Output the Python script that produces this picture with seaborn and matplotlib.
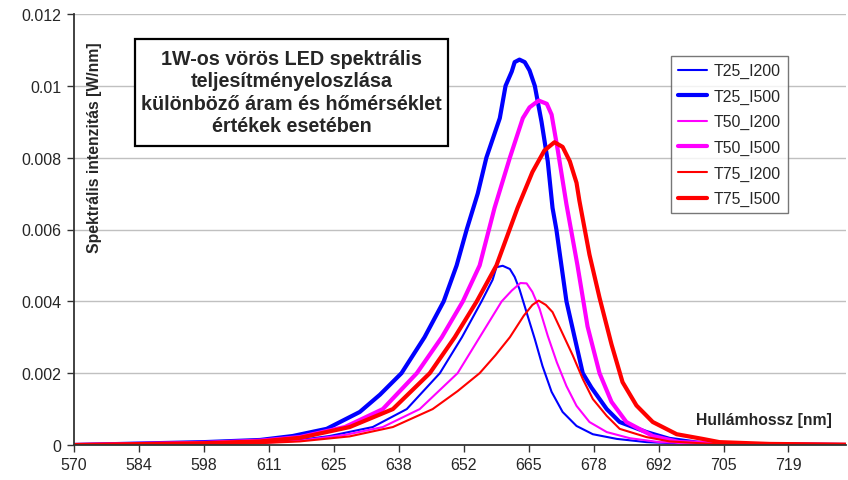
import numpy as np
import pandas as pd
import matplotlib
matplotlib.use("Agg")
import matplotlib.pyplot as plt
from matplotlib.patches import Rectangle
import seaborn as sns

# ---- data ----
wl_T25_I500 = [570, 597.1, 608.8, 615.6, 622.7, 629.6, 633.8, 638.3, 643.1, 647.1, 649.8, 651.9, 654.2, 656.0, 658.8, 660.0, 661.3, 661.9, 662.9, 664.0, 665.0, 666.1, 667.5, 668.8, 669.8, 670.6, 672.7, 674.4, 676.1, 677.9, 681.1, 683.8, 689.4, 694.2, 700.4, 710.9, 730.9]
val_T25_I500 = [0, 0.00008, 0.00014, 0.00025, 0.00045, 0.00092, 0.0014, 0.0020, 0.0030, 0.0040, 0.0050, 0.0060, 0.0070, 0.0080, 0.0091, 0.0100, 0.0104, 0.01066, 0.01073, 0.01066, 0.01043, 0.0100, 0.0090, 0.0079, 0.0066, 0.0060, 0.0040, 0.0030, 0.0020, 0.0016, 0.0010, 0.00064, 0.00036, 0.00017, 0.00006, 0.00002, 0]

wl_T50_I500 = [570, 597.1, 608.8, 617.1, 626.5, 634.4, 641.5, 646.7, 651.1, 654.6, 657.7, 660.9, 663.6, 665.0, 666.9, 668.6, 669.6, 670.9, 672.7, 675.0, 677.1, 679.6, 682.1, 685.2, 690.7, 696.3, 710.9, 730.9]
val_T50_I500 = [0, 0.00006, 0.00012, 0.00022, 0.0005, 0.0010, 0.0020, 0.0030, 0.0040, 0.0050, 0.0066, 0.0080, 0.0091, 0.0094, 0.00959, 0.0095, 0.0092, 0.0082, 0.0067, 0.0050, 0.0033, 0.0020, 0.0012, 0.00064, 0.00025, 0.00008, 0.00002, 0]

wl_T75_I500 = [570, 597.1, 608.8, 617.1, 627.5, 636.5, 644.2, 649.4, 654.0, 658.1, 662.5, 665.6, 668.1, 670.2, 671.9, 673.4, 674.8, 675.4, 677.5, 679.6, 682.1, 684.4, 687.3, 690.7, 695.7, 701.1, 704.6, 715.0, 730.9]
val_T75_I500 = [0, 0.00005, 0.0001, 0.0002, 0.0005, 0.0010, 0.0020, 0.0030, 0.0040, 0.0050, 0.0066, 0.0076, 0.0082, 0.00843, 0.0083, 0.0079, 0.0073, 0.0068, 0.0053, 0.0041, 0.0028, 0.00175, 0.0011, 0.00064, 0.0003, 0.00017, 0.00008, 0.00003, 0.00001]

wl_T25_I200 = [570, 597.1, 608.8, 617.1, 623.3, 632.3, 639.4, 646.3, 650.9, 655.0, 657.3, 658.1, 659.4, 660.9, 661.9, 662.9, 664.6, 666.1, 667.7, 669.6, 671.9, 674.8, 678.2, 683.2, 689.4, 700.4, 730.9]
val_T25_I200 = [0, 0.00003, 0.00007, 0.00014, 0.00025, 0.0005, 0.0010, 0.0020, 0.0030, 0.0040, 0.0046, 0.00495, 0.00499, 0.0049, 0.00468, 0.00434, 0.0036, 0.00295, 0.0022, 0.00148, 0.00092, 0.00053, 0.0003, 0.00017, 0.00008, 0.00002, 0]

wl_T50_I200 = [570, 597.1, 608.8, 617.1, 626.5, 634.4, 642.1, 650.0, 654.6, 659.2, 661.3, 663.1, 664.4, 665.6, 667.1, 668.8, 670.7, 672.7, 674.8, 677.5, 681.1, 685.9, 692.1, 710.9, 730.9]
val_T50_I200 = [0, 0.00002, 0.00006, 0.00012, 0.00028, 0.0005, 0.0010, 0.0020, 0.0030, 0.0040, 0.0043, 0.00451, 0.0045, 0.00426, 0.00379, 0.00304, 0.0023, 0.00164, 0.00109, 0.00064, 0.00036, 0.00019, 0.00008, 0.00001, 0]

wl_T75_I200 = [570, 597.1, 608.8, 617.1, 627.5, 636.5, 644.8, 650.0, 654.6, 657.9, 660.9, 663.8, 665.6, 666.9, 668.4, 669.8, 671.9, 674.0, 676.1, 678.2, 681.1, 683.8, 689.4, 694.2, 704.6, 730.9]
val_T75_I200 = [0, 0.00002, 0.00005, 0.0001, 0.00024, 0.0005, 0.0010, 0.0015, 0.0020, 0.0025, 0.0030, 0.0036, 0.0039, 0.00402, 0.0039, 0.0037, 0.0031, 0.0025, 0.00184, 0.00128, 0.00081, 0.00045, 0.00022, 0.0001, 0.00002, 0]

series_names = ["T25_I200", "T25_I500", "T50_I200", "T50_I500", "T75_I200", "T75_I500"]
series_wl = [wl_T25_I200, wl_T25_I500, wl_T50_I200, wl_T50_I500, wl_T75_I200, wl_T75_I500]
series_val = [val_T25_I200, val_T25_I500, val_T50_I200, val_T50_I500, val_T75_I200, val_T75_I500]

x_tick_labels = ["570", "584", "598", "611", "625", "638", "652", "665", "678", "692", "705", "719"]
y_ticks = [0, 0.002, 0.004, 0.006, 0.008, 0.01, 0.012]
y_tick_labels = ["0", "0.002", "0.004", "0.006", "0.008", "0.01", "0.012"]

title_text = "1W-os vörös LED spektrális\nteljesítményeloszlása\nkülönböző áram és hőmérséklet\nértékek esetében"

# ---- styles ----
colors = {"T25_I200": "#0000FF", "T25_I500": "#0000FF",
          "T50_I200": "#FF00FF", "T50_I500": "#FF00FF",
          "T75_I200": "#FF0000", "T75_I500": "#FF0000"}
widths = {"T25_I200": 1.5, "T25_I500": 3.0,
          "T50_I200": 1.5, "T50_I500": 3.0,
          "T75_I200": 1.5, "T75_I500": 3.0}

sns.set_style("white")
plt.rcParams["font.family"] = ["Liberation Sans", "DejaVu Sans"]

W, H = 848, 481
fig = plt.figure(figsize=(W / 100, H / 100), dpi=100)
ax = fig.add_axes([74 / W, 1 - 446 / H, (846 - 74) / W, (446 - 15) / H])

frames = []
for name, wl, val in zip(series_names, series_wl, series_val):
    frames.append(pd.DataFrame({"wl": wl, "val": val, "series": name}))
df = pd.concat(frames, ignore_index=True)

for name in series_names:
    sub = df[df["series"] == name]
    sns.lineplot(data=sub, x="wl", y="val", ax=ax, color=colors[name],
                 linewidth=widths[name], label=name, sort=False, estimator=None)

ax.set_xlim(570, 731)
ax.set_ylim(0, 0.012)
ax.set_yticks(y_ticks)
ax.set_yticklabels(y_tick_labels, fontsize=11.5)
ax.set_xticks(np.linspace(570, 719, len(x_tick_labels)))
ax.set_xticklabels(x_tick_labels, fontsize=11.5)
ax.tick_params(axis="both", direction="out", length=5, width=1, color="#333333",
               bottom=True, left=True, pad=4)
ax.grid(axis="y", color="#c0c0c0", linewidth=1)
ax.grid(axis="x", visible=False)
for s in ["top", "right"]:
    ax.spines[s].set_visible(False)
for s in ["left", "bottom"]:
    ax.spines[s].set_color("#333333")
    ax.spines[s].set_linewidth(1.3)
ax.set_xlabel("")
ax.set_ylabel("")

# axis titles inside the plot
fig.text(94 / W, 1 - 42 / H, "Spektrális intenzitás [W/nm]",
         rotation=90, ha="center", va="top", fontsize=11.3, fontweight="bold")
fig.text(832 / W, 1 - 421 / H, "Hullámhossz [nm]",
         ha="right", va="center", fontsize=11.3, fontweight="bold")

# title box
fig.patches.append(Rectangle((135 / W, 1 - 147 / H), (448 - 135) / W, (147 - 40) / H,
                             transform=fig.transFigure, facecolor="white",
                             edgecolor="black", linewidth=1.6, zorder=5))
fig.text(291.5 / W, 1 - 93 / H, title_text, ha="center", va="center",
         fontsize=14.2, fontweight="bold", linespacing=1.22, zorder=6)

leg = ax.legend(loc="upper left", bbox_to_anchor=((671 - 74) / 772, (446 - 57) / 431),
                borderaxespad=0, fontsize=11.4, frameon=True, fancybox=False,
                edgecolor="#555555", handlelength=1.8, labelspacing=0.66,
                borderpad=0.45, handletextpad=0.45)
leg.get_frame().set_linewidth(1.0)

fig.savefig("out.png", dpi=100)
